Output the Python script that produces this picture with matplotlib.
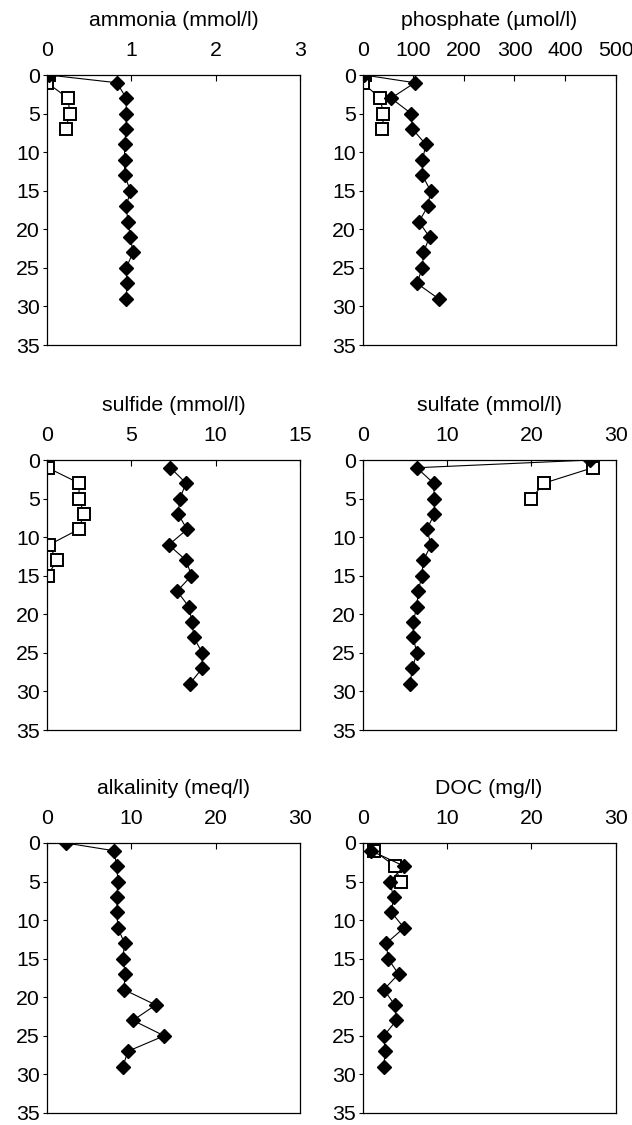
import matplotlib
matplotlib.use("Agg")
import matplotlib.pyplot as plt

plt.rcParams['font.family'] = ['Liberation Sans', 'DejaVu Sans']

# sampling depths
depth_all = [0, 1, 3, 5, 7, 9, 11, 13, 15, 17, 19, 21, 23, 25, 27, 29]
depth_from1 = depth_all[1:]

# ammonia (mmol/l)
nh4_d = [0.02, 0.83, 0.94, 0.94, 0.94, 0.92, 0.92, 0.92, 0.99, 0.94, 0.96, 0.99, 1.02, 0.94, 0.95, 0.94]
nh4_s_depth = [0, 1, 3, 5, 7]
nh4_s = [0.02, 0.0, 0.25, 0.27, 0.22]

# phosphate (umol/l)
po4_d = [3, 103, 56, 96, 98, 125, 118, 118, 134, 129, 111, 132, 120, 118, 107, 150]
po4_s_depth = [0, 1, 3, 5, 7]
po4_s = [5, 0, 34, 41, 39]

# sulfide (mmol/l)
h2s_d = [7.32, 8.25, 7.88, 7.78, 8.31, 7.22, 8.25, 8.57, 7.72, 8.41, 8.61, 8.71, 9.21, 9.21, 8.47]
h2s_s_depth = [1, 3, 5, 7, 9, 11, 13, 15]
h2s_s = [0.04, 1.9, 1.9, 2.2, 1.87, 0.12, 0.58, 0.04]

# sulfate (mmol/l)
so4_d = [27.0, 6.4, 8.4, 8.5, 8.5, 7.6, 8.1, 7.2, 7.0, 6.6, 6.4, 6.0, 6.0, 6.4, 5.9, 5.6]
so4_s_depth = [0, 1, 3, 5]
so4_s = [27.3, 27.3, 21.5, 20.0]

# alkalinity (meq/l)
alk_d = [2.2, 7.9, 8.3, 8.4, 8.3, 8.3, 8.4, 9.2, 9.0, 9.3, 9.1, 12.9, 10.2, 13.9, 9.6, 9.0]

# DOC (mg/l)
doc_d = [0.95, 4.9, 3.2, 3.65, 3.4, 4.9, 2.8, 3.0, 4.25, 2.5, 3.8, 4.0, 2.5, 2.65, 2.5]
doc_s_depth = [1, 3, 5]
doc_s = [1.35, 3.8, 4.5]

panels = [
    ("ammonia (mmol/l)", (0, 3), [0, 1, 2, 3], (depth_all, nh4_d), (nh4_s_depth, nh4_s)),
    ("phosphate (\u00b5mol/l)", (0, 500), [0, 100, 200, 300, 400, 500], (depth_all, po4_d), (po4_s_depth, po4_s)),
    ("sulfide (mmol/l)", (0, 15), [0, 5, 10, 15], (depth_from1, h2s_d), (h2s_s_depth, h2s_s)),
    ("sulfate (mmol/l)", (0, 30), [0, 10, 20, 30], (depth_all, so4_d), (so4_s_depth, so4_s)),
    ("alkalinity (meq/l)", (0, 30), [0, 10, 20, 30], (depth_all, alk_d), None),
    ("DOC (mg/l)", (0, 30), [0, 10, 20, 30], (depth_from1, doc_d), (doc_s_depth, doc_s)),
]

fig = plt.figure(figsize=(6.32, 11.25), dpi=100)
lefts = [0.0744, 0.574]
bottoms = [0.6933, 0.3511, 0.0107]
w, h = 0.400, 0.240
fs = 15.3

for i, (title, xlim, xticks, dia, sq) in enumerate(panels):
    ax = fig.add_axes([lefts[i % 2], bottoms[i // 2], w, h])
    if sq is not None:
        ax.plot(sq[1], sq[0], color='black', lw=0.8, marker='s', ms=8.5,
                mfc='white', mec='black', mew=1.4, zorder=2)
    ax.plot(dia[1], dia[0], color='black', lw=0.8, marker='D', ms=7.5,
            mfc='black', mec='black', zorder=3)
    ax.set_xlim(*xlim)
    ax.set_ylim(35, 0)
    ax.set_xticks(xticks)
    ax.set_yticks(range(0, 36, 5))
    ax.xaxis.tick_top()
    ax.tick_params(axis='x', direction='in', length=4, width=0.8, labelsize=fs, pad=10.5)
    ax.tick_params(axis='y', direction='out', length=3, width=0.8, labelsize=fs, pad=2)
    ax.set_title(title, fontsize=fs, pad=35)
    for sp in ax.spines.values():
        sp.set_linewidth(0.9)

fig.savefig("out.png", dpi=100)
